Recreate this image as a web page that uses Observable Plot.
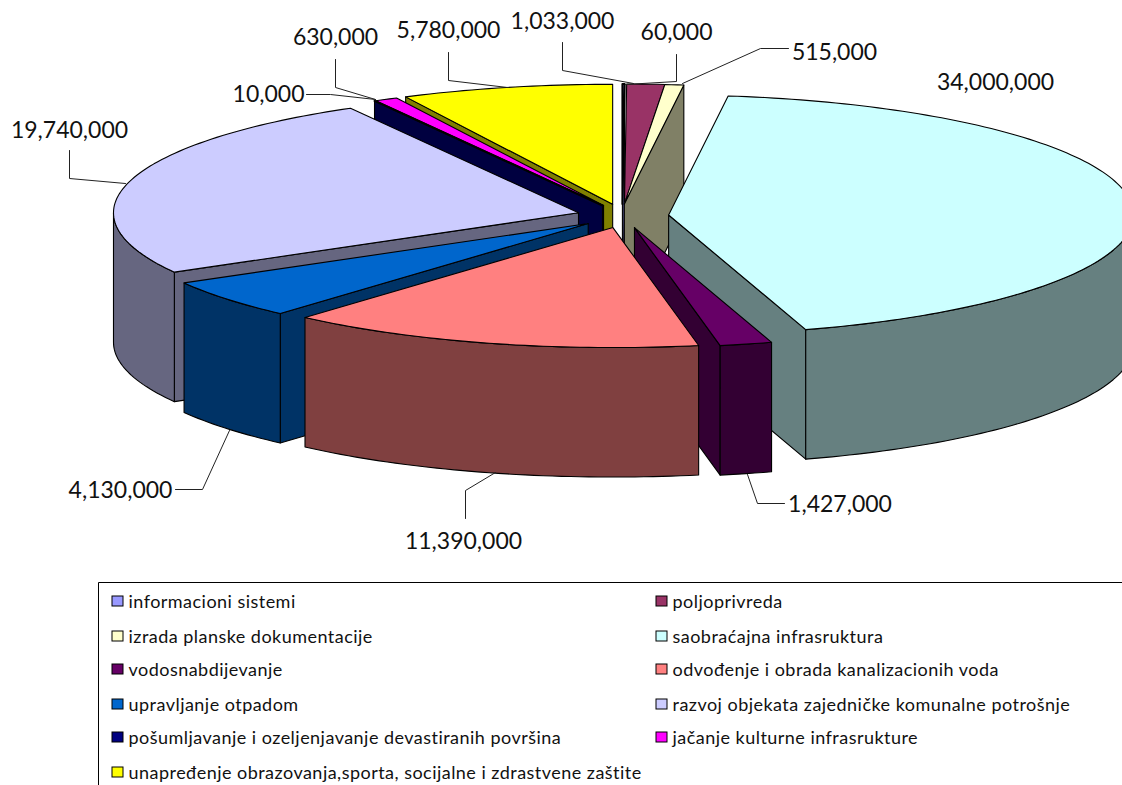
<!DOCTYPE html>
<html>
<head>
<meta charset="utf-8">
<script src="https://cdn.jsdelivr.net/npm/d3@7"></script>
<script src="https://cdn.jsdelivr.net/npm/@observablehq/plot@0.6"></script>
<style>
html,body{margin:0;padding:0;background:#fff;overflow:hidden}
g[font-size="18"] text{letter-spacing:.47px}
</style>
</head>
<body>
<div id="chart"></div>
<script>
// ---- data ----
const categories = [
  "informacioni sistemi", "poljoprivreda", "izrada planske dokumentacije",
  "saobraćajna infrasruktura", "vodosnabdijevanje", "odvođenje i obrada kanalizacionih voda",
  "upravljanje otpadom", "razvoj objekata zajedničke komunalne potrošnje",
  "pošumljavanje i ozeljenjavanje devastiranih površina", "jačanje kulturne infrasrukture",
  "unapređenje obrazovanja,sporta, socijalne i zdrastvene zaštite"
];
const values = [60000, 1033000, 515000, 34000000, 1427000, 11390000, 4130000, 19740000, 10000, 630000, 5780000];
const topColors = ["#9999FF", "#993366", "#FFFFCC", "#CCFFFF", "#660066", "#FF8080", "#0066CC", "#CCCCFF", "#000080", "#FF00FF", "#FFFF00"];
const sideColors = ["#4C4C80", "#4D1933", "#808066", "#668080", "#330033", "#804040", "#003366", "#666680", "#000040", "#800080", "#808000"];

// ---- layout ----
const W = 1122, H = 785;
const cx = 621.8, cy = 215.5, rx = 465, ry = 120, depth = 129.5, explode = 0.1;
const sliceShiftX = [0, 0, -3, 0, 1, 3, 2, 1, 3, 3, 1];
const paintOrder = [0, 1, 2, 10, 9, 8, 7, 3, 4, 6, 5];
const labelPlaces = [
  {i: 0, tx: 676, ty: 32, path: [[676, 54], [676, 81], [625, 84]]},
  {i: 1, tx: 562, ty: 21, path: [[562, 42], [562, 70], [633, 83]]},
  {i: 2, tx: 834, ty: 52, path: [[788, 48], [760, 48], [682, 83]]},
  {i: 3, tx: 995, ty: 82, path: []},
  {i: 4, tx: 839.5, ty: 504, path: [[747, 474], [757, 503], [784, 503]]},
  {i: 5, tx: 463, ty: 541, path: [[465, 518], [465, 490], [495, 472]]},
  {i: 6, tx: 120, ty: 490, path: [[229, 430], [202, 489], [175, 489]]},
  {i: 7, tx: 69, ty: 130, path: [[69, 150], [69, 178], [125, 183]]},
  {i: 8, tx: 268, ty: 94, path: [[306, 94], [330, 94], [375, 99]]},
  {i: 9, tx: 335, ty: 37, path: [[335, 59], [335, 87], [375, 99]]},
  {i: 10, tx: 448, ty: 30, path: [[448, 52], [448, 80], [507, 87]]}
];
const legendRows = [601, 636, 669, 704, 737, 772];
const legendCols = [112, 656];

// ---- pie geometry, derived from the values ----
const arcs = d3.pie().sort(null).value(d => d).startAngle(0).endAngle(2 * Math.PI)(values);
const slices = arcs.map((a, i) => {
  const mid = (a.startAngle + a.endAngle) / 2;
  const ax = cx + sliceShiftX[i] + explode * rx * Math.sin(mid), ay = cy - explode * ry * Math.cos(mid);
  const at = t => ({x: ax + rx * Math.sin(t), y: ay - ry * Math.cos(t)});
  return {i, a0: a.startAngle, a1: a.endAngle, apex: {x: ax, y: ay}, at};
});
const down = p => ({x: p.x, y: p.y + depth});
const arcPts = (s, t0, t1) => {
  const n = Math.max(2, Math.ceil((t1 - t0) / 0.02));
  return d3.range(n + 1).map(k => s.at(t0 + (t1 - t0) * k / n));
};
const faces = [];
for (const oi of paintOrder) {
  const s = slices[oi];
  const side = sideColors[oi];
  const wall = t => {
    const c = s.at(t);
    return {pts: [s.apex, c, down(c), down(s.apex), s.apex], fill: side, sw: 1.1};
  };
  if (Math.sin(s.a0) < 0) faces.push(wall(s.a0));
  if (Math.sin(s.a1) > 0) faces.push(wall(s.a1));
  const lo = Math.max(s.a0, Math.PI / 2), hi = Math.min(s.a1, 3 * Math.PI / 2);
  if (hi > lo) {
    const p = arcPts(s, lo, hi);
    faces.push({pts: [...p, ...p.slice().reverse().map(down), p[0]], fill: side, sw: 1.1});
  }
  faces.push({pts: [s.apex, ...arcPts(s, s.a0, s.a1), s.apex], fill: topColors[oi], sw: s.a1 - s.a0 < 0.01 ? 2 : 1.1});
}

const fmt = d3.format(",");
const legendData = categories.map((name, i) => ({
  name, color: topColors[i],
  x: legendCols[i % 2], y: legendRows[Math.floor(i / 2)]
}));

const fontFamily = "Lato, Carlito, sans-serif";
const chart = Plot.plot({
  width: W, height: H,
  margin: 0,
  x: {domain: [0, W], range: [0, W], axis: null},
  y: {domain: [0, H], range: [0, H], axis: null},
  style: {background: "#fff"},
  marks: [
    ...faces.map(f => Plot.line(f.pts, {x: "x", y: "y", fill: f.fill, stroke: "#000", strokeWidth: f.sw, strokeLinejoin: "round"})),
    ...labelPlaces.filter(l => l.path.length).map(l =>
      Plot.line(l.path, {x: d => d[0], y: d => d[1], stroke: "#222", strokeWidth: 1})),
    Plot.text(labelPlaces, {
      x: "tx", y: "ty", text: d => fmt(values[d.i]),
      fontSize: 23, fontFamily, fill: "#111", textAnchor: "middle", lineAnchor: "middle"
    }),
    Plot.line([[1130, 582], [98, 582], [98, 800]], {x: d => d[0], y: d => d[1], stroke: "#000", strokeWidth: 1}),
    Plot.rect(legendData, {
      x1: "x", x2: d => d.x + 11, y1: d => d.y - 5, y2: d => d.y + 5,
      fill: "color", stroke: "#000", strokeWidth: 1
    }),
    Plot.text(legendData, {
      x: d => d.x + 16, y: d => d.y + 1, text: "name",
      fontSize: 18, fontFamily, fill: "#111", textAnchor: "start", lineAnchor: "middle"
    })
  ]
});
document.getElementById("chart").appendChild(chart);
</script>
</body>
</html>
